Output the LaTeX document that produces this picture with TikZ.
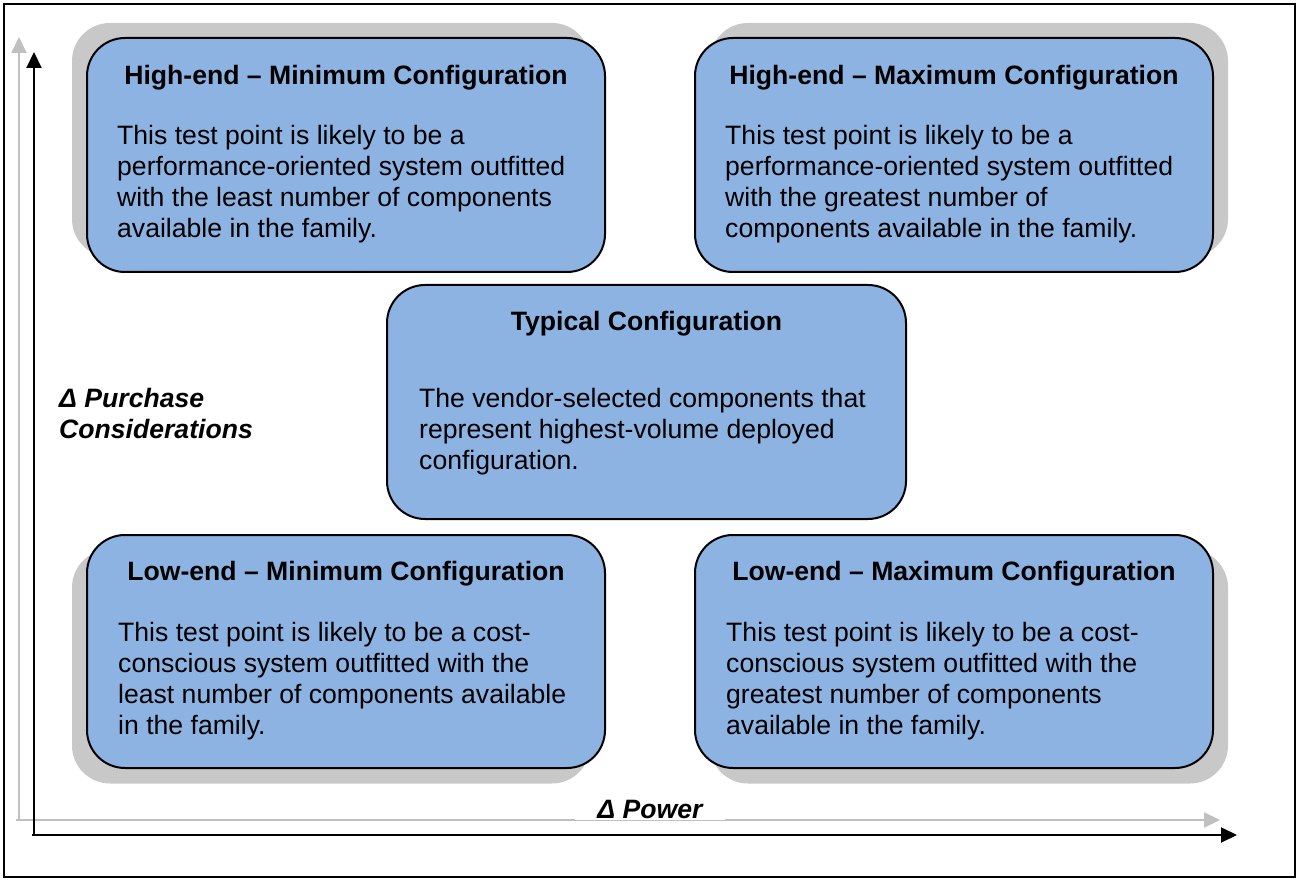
\documentclass[tikz,border=0pt]{standalone}
\usepackage{fontspec}
\setmainfont{Liberation Sans}
\usetikzlibrary{arrows.meta}
\definecolor{boxblue}{RGB}{141,179,226}
\definecolor{shadowgray}{RGB}{200,200,200}
\definecolor{axisgray}{RGB}{192,192,192}
\begin{document}
\begin{tikzpicture}[x=1pt,y=-1pt,
  cfgbox/.style={draw=black,line width=2pt,fill=boxblue,rounded corners=38pt,
    minimum width=518pt,minimum height=234pt,inner sep=0pt},
  shadowbox/.style={fill=shadowgray,rounded corners=38pt,
    minimum width=518pt,minimum height=234pt,inner sep=0pt},
  cfgtitle/.style={anchor=base,inner sep=0pt,font=\fontsize{26.6}{31}\selectfont\bfseries},
  cfgbody/.style={anchor=base west,inner sep=0pt,align=left,font=\fontsize{26.6}{31}\selectfont},
  axislabel/.style={inner sep=0pt,font=\fontsize{26.6}{31}\selectfont\bfseries\itshape},
  blackaxis/.style={line width=2pt,-{Triangle[length=16pt,width=15pt]}},
  grayaxis/.style={draw=axisgray,line width=2pt,-{Triangle[length=16pt,width=15pt]}}]
\useasboundingbox (0,0) rectangle (1298,882);
\draw[line width=2pt] (4,4) rectangle (1295,877);
% axes
\coordinate (gcorner) at (19,820);
\coordinate (gtop) at (19,37);
\coordinate (gright) at (1220,820);
\coordinate (bcorner) at (34,835);
\coordinate (btop) at (34,52);
\coordinate (bright) at (1237,835);
\draw[grayaxis] (gcorner) -- (gtop);
\draw[grayaxis] ([xshift=-3pt]gcorner) -- (gright);
\draw[blackaxis] (bcorner) -- (btop);
\draw[blackaxis] ([xshift=-2pt]bcorner) -- (bright);
\node[axislabel,fill=white,inner xsep=22pt,inner ysep=2pt,anchor=base] (power) at (650,818) {Δ Power};
\node[axislabel,anchor=base west,align=left] (purchase) at (59,438) {Δ Purchase\\Considerations};
% shadows
\node[shadowbox] (s1) at (331,140) {};
\node[shadowbox] (s2) at (969,140) {};
\node[shadowbox] (s4) at (331,666.5) {};
\node[shadowbox] (s5) at (969,666.5) {};
% boxes
\node[cfgbox] (hmin) at (346,155) {};
\node[cfgbox] (hmax) at (954,155) {};
\node[cfgbox,minimum width=519pt] (typ) at (646.5,402) {};
\node[cfgbox,minimum height=233pt] (lmin) at (346,651.5) {};
\node[cfgbox,minimum height=233pt] (lmax) at (954,651.5) {};
% texts (base anchor = last line's baseline)
\node[cfgtitle] (hmint) at (346,85) {High-end – Minimum Configuration};
\node[cfgbody] (hminb) at (117,238) {This test point is likely to be a\\performance-oriented system outfitted\\with the least number of components\\available in the family.};
\node[cfgtitle] (hmaxt) at (954,85) {High-end – Maximum Configuration};
\node[cfgbody] (hmaxb) at (725,238) {This test point is likely to be a\\performance-oriented system outfitted\\with the greatest number of\\components available in the family.};
\node[cfgtitle] (typt) at (646.5,331) {Typical Configuration};
\node[cfgbody] (typb) at (419,469) {The vendor-selected components that\\represent highest-volume deployed\\configuration.};
\node[cfgtitle] (lmint) at (346,580) {Low-end – Minimum Configuration};
\node[cfgbody] (lminb) at (118,734) {This test point is likely to be a cost-\\conscious system outfitted with the\\least number of components available\\in the family.};
\node[cfgtitle] (lmaxt) at (954,580) {Low-end – Maximum Configuration};
\node[cfgbody] (lmaxb) at (726,734) {This test point is likely to be a cost-\\conscious system outfitted with the\\greatest number of components\\available in the family.};
\end{tikzpicture}
\end{document}
